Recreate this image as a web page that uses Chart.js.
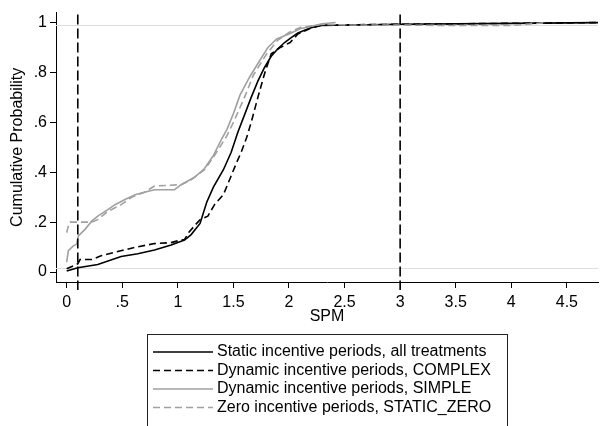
<!DOCTYPE html>
<html>
<head>
<meta charset="utf-8">
<script src="https://cdn.jsdelivr.net/npm/chart.js@4.4.1/dist/chart.umd.min.js"></script>
<style>
  html, body { margin: 0; padding: 0; background: #fff; }
  #wrap { width: 602px; height: 426px; }
</style>
</head>
<body>
<div id="wrap"><canvas id="cdfChart" width="602" height="426"></canvas></div>
<script>
// tick labels
const X_TICKS = [0, 0.5, 1, 1.5, 2, 2.5, 3, 3.5, 4, 4.5];
const Y_TICKS = [0, 0.2, 0.4, 0.6, 0.8, 1];
const V_LINES = [0.1, 3];
const H_LINES = [0.017, 0.992];

// Static incentive periods, all treatments
const staticSpm = [0, 0.1, 0.28, 0.49, 0.64, 0.79, 0.94, 1.06, 1.12, 1.2, 1.26, 1.32, 1.41, 1.48, 1.54, 1.6, 1.66, 1.72, 1.78, 1.84, 1.9, 1.96, 2.02, 2.08, 2.19, 2.28, 3.0, 4.0, 4.78];
const staticCdf = [0.004, 0.017, 0.03, 0.062, 0.073, 0.088, 0.108, 0.128, 0.15, 0.195, 0.28, 0.34, 0.41, 0.48, 0.56, 0.63, 0.70, 0.765, 0.82, 0.865, 0.895, 0.92, 0.94, 0.958, 0.978, 0.988, 0.993, 0.997, 1.0];

// Dynamic incentive periods, COMPLEX
const complexSpm = [0, 0.1, 0.12, 0.225, 0.315, 0.495, 0.615, 0.79, 0.94, 1.0, 1.06, 1.1, 1.16, 1.2, 1.27, 1.33, 1.41, 1.47, 1.53, 1.57, 1.62, 1.66, 1.72, 1.78, 1.84, 1.92, 2.01, 2.08, 2.2, 2.3, 3.0, 4.0, 4.78];
const complexCdf = [0.013, 0.033, 0.05, 0.05, 0.066, 0.086, 0.099, 0.114, 0.118, 0.125, 0.13, 0.16, 0.19, 0.21, 0.224, 0.27, 0.31, 0.375, 0.44, 0.48, 0.54, 0.60, 0.70, 0.795, 0.875, 0.90, 0.92, 0.954, 0.978, 0.99, 0.993, 0.997, 1.0];

// Dynamic incentive periods, SIMPLE
const simpleSpm = [0, 0.015, 0.06, 0.09, 0.105, 0.165, 0.225, 0.28, 0.37, 0.435, 0.52, 0.615, 0.70, 0.79, 0.97, 1.03, 1.15, 1.24, 1.32, 1.39, 1.44, 1.5, 1.56, 1.65, 1.74, 1.81, 1.89, 2.01, 2.1, 2.2, 2.3, 2.42];
const simpleCdf = [0.04, 0.086, 0.105, 0.112, 0.145, 0.171, 0.204, 0.224, 0.25, 0.27, 0.29, 0.31, 0.32, 0.33, 0.33, 0.35, 0.38, 0.415, 0.467, 0.53, 0.57, 0.635, 0.71, 0.785, 0.85, 0.90, 0.934, 0.956, 0.975, 0.985, 0.995, 1.0];

// Zero incentive periods, STATIC_ZERO
const zeroSpm = [0, 0.015, 0.03, 0.225, 0.28, 0.37, 0.49, 0.585, 0.70, 0.79, 1.03, 1.12, 1.24, 1.32, 1.44, 1.5, 1.6, 1.68, 1.8, 1.9, 2.0, 2.1, 2.3, 2.6, 3.0, 3.5, 4.0, 4.32];
const zeroCdf = [0.158, 0.184, 0.2, 0.2, 0.21, 0.243, 0.27, 0.30, 0.32, 0.345, 0.35, 0.37, 0.41, 0.46, 0.545, 0.60, 0.70, 0.79, 0.875, 0.93, 0.96, 0.98, 0.993, 0.99, 0.99, 0.988, 0.988, 1.0];

const FONT = "'Liberation Sans', Arial, Helvetica, sans-serif";
const GREY = '#a0a0a0';

function toPoints(xs, ys) {
    return xs.map((x, i) => ({ x: x, y: ys[i] }));
}

function stataLabel(v) {
    if (v === 0) return '0';
    return String(v).replace(/^0\./, '.');
}

const refLines = {
    id: 'refLines',
    beforeDatasetsDraw(chart) {
        const { ctx, chartArea, scales } = chart;
        ctx.save();
        ctx.strokeStyle = '#dedede';
        ctx.lineWidth = 1;
        H_LINES.forEach(v => {
            const y = Math.round(scales.y.getPixelForValue(v)) + 0.5;
            ctx.beginPath();
            ctx.moveTo(chartArea.left, y);
            ctx.lineTo(chartArea.right, y);
            ctx.stroke();
        });
        ctx.restore();
    },
    afterDraw(chart) {
        const { ctx, chartArea, scales } = chart;
        ctx.save();
        ctx.strokeStyle = '#000';
        ctx.lineWidth = 1.6;
        ctx.setLineDash([10, 4]);
        V_LINES.forEach(v => {
            const x = scales.x.getPixelForValue(v);
            ctx.beginPath();
            ctx.moveTo(x, chartArea.top + 2);
            ctx.lineTo(x, chartArea.bottom + 8);
            ctx.stroke();
        });
        ctx.restore();
    }
};

const boxLegend = {
    id: 'boxLegend',
    afterDraw(chart) {
        const ctx = chart.ctx;
        const left = 147, top = 334, right = 507;
        ctx.save();
        ctx.strokeStyle = '#222';
        ctx.lineWidth = 1;
        ctx.strokeRect(left + 0.5, top + 0.5, right - left, 120);
        ctx.font = '16px ' + FONT;
        ctx.textBaseline = 'middle';
        ctx.fillStyle = '#000';
        chart.data.datasets.forEach((ds, i) => {
            const y = top + 18 + i * 18.5;
            ctx.strokeStyle = ds.borderColor;
            ctx.lineWidth = ds.borderWidth;
            ctx.setLineDash(ds.borderDash || []);
            ctx.beginPath();
            ctx.moveTo(153, y);
            ctx.lineTo(213, y);
            ctx.stroke();
            ctx.setLineDash([]);
            ctx.fillText(ds.label, 217, y);
        });
        ctx.restore();
    }
};

const lineStyle = { showLine: true, pointRadius: 0, tension: 0, fill: false };

new Chart(document.getElementById('cdfChart'), {
    type: 'scatter',
    data: {
        datasets: [
            { ...lineStyle, label: 'Static incentive periods, all treatments', data: toPoints(staticSpm, staticCdf),
              borderColor: '#000', borderWidth: 1.6, order: 4 },
            { ...lineStyle, label: 'Dynamic incentive periods, COMPLEX', data: toPoints(complexSpm, complexCdf),
              borderColor: '#000', borderWidth: 1.6, borderDash: [7, 4], order: 3 },
            { ...lineStyle, label: 'Dynamic incentive periods, SIMPLE', data: toPoints(simpleSpm, simpleCdf),
              borderColor: GREY, borderWidth: 1.6, order: 2 },
            { ...lineStyle, label: 'Zero incentive periods, STATIC_ZERO', data: toPoints(zeroSpm, zeroCdf),
              borderColor: GREY, borderWidth: 1.6, borderDash: [7, 4], order: 1 }
        ]
    },
    options: {
        responsive: false,
        animation: false,
        layout: { padding: { top: 8, right: 4, left: 0, bottom: 100 } },
        plugins: { legend: { display: false }, tooltip: { enabled: false } },
        scales: {
            x: {
                type: 'linear',
                min: -0.096,
                max: 4.78,
                afterBuildTicks: s => { s.ticks = X_TICKS.map(v => ({ value: v })); },
                afterFit: s => { s.height = 44; },
                ticks: { callback: stataLabel, color: '#000', font: { size: 16, family: FONT },
                         maxRotation: 0, autoSkip: false, padding: 5 },
                grid: { drawOnChartArea: false, drawTicks: true, tickLength: 6, tickColor: '#000', color: '#000', lineWidth: 1 },
                border: { display: true, color: '#000', width: 1 },
                title: { display: true, text: 'SPM', color: '#000', font: { size: 16, family: FONT }, padding: { top: 0, bottom: 0 } }
            },
            y: {
                type: 'linear',
                min: -0.04,
                max: 1.04,
                afterBuildTicks: s => { s.ticks = Y_TICKS.map(v => ({ value: v })); },
                afterFit: s => { s.width = 56; },
                ticks: { callback: stataLabel, color: '#000', font: { size: 16, family: FONT }, padding: 3 },
                grid: { drawOnChartArea: false, drawTicks: true, tickLength: 6, tickColor: '#000', color: '#000', lineWidth: 1 },
                border: { display: true, color: '#000', width: 1 },
                title: { display: true, text: 'Cumulative Probability', color: '#000', font: { size: 16, family: FONT }, padding: { top: 8, bottom: 0 } }
            }
        }
    },
    plugins: [refLines, boxLegend]
});
</script>
</body>
</html>
